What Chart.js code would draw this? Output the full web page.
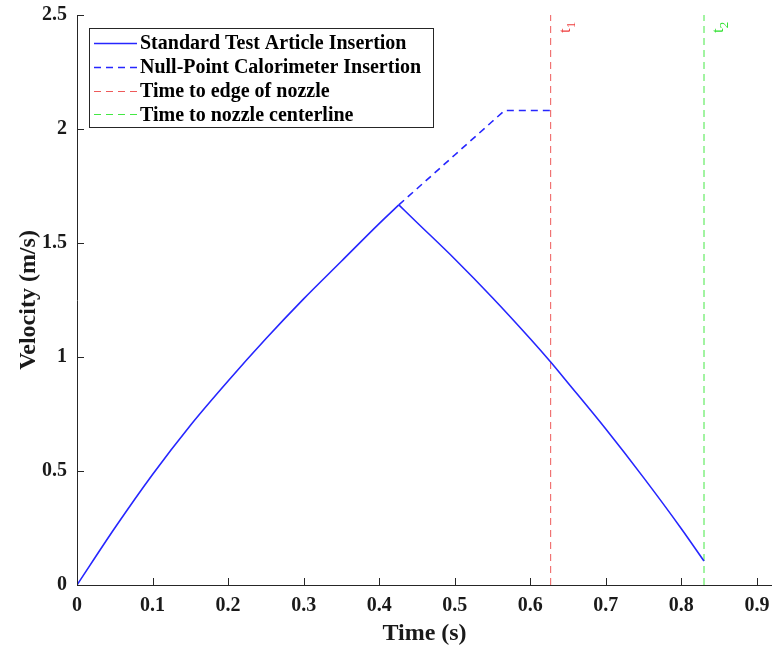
<!DOCTYPE html>
<html>
<head>
<meta charset="utf-8">
<script src="https://cdn.jsdelivr.net/npm/chart.js@4/dist/chart.umd.min.js"></script>
<style>
  html, body { margin: 0; padding: 0; background: #fff; }
  #wrap { width: 772px; height: 656px; }
</style>
</head>
<body>
<div id="wrap"><canvas id="c" width="772" height="656"></canvas></div>
<script>
// Insertion velocity profiles
const timeStandard = [0, 0.05, 0.1, 0.15, 0.2, 0.25, 0.3, 0.35, 0.4, 0.426, 0.45, 0.5, 0.55, 0.6, 0.627, 0.65, 0.7, 0.75, 0.8, 0.83];
const velStandard  = [0, 0.25, 0.485, 0.70, 0.895, 1.08, 1.255, 1.42, 1.585, 1.667, 1.59, 1.43, 1.26, 1.08, 0.978, 0.886, 0.684, 0.471, 0.247, 0.105];

const timeNullPoint = [0.426, 0.45, 0.5, 0.55, 0.566, 0.627];
const velNullPoint  = [1.667, 1.738, 1.886, 2.034, 2.081, 2.081];

// Event times
const tEdge = 0.627;     // time to edge of nozzle (t1)
const tCenter = 0.83;    // time to nozzle centerline (t2)

// Axis ticks
const xTickValues = [0, 0.1, 0.2, 0.3, 0.4, 0.5, 0.6, 0.7, 0.8, 0.9];
const yTickValues = [0, 0.5, 1, 1.5, 2, 2.5];

const SERIF = '"Liberation Serif", "Times New Roman", Times, serif';
const AXIS_COLOR = '#262626';
const BLUE = '#2626ff';

const toPoints = (xs, ys) => xs.map((x, i) => ({ x: x, y: ys[i] }));

// The standard profile is drawn as a rising and a falling branch so the peak stays sharp
const peakIndex = velStandard.indexOf(Math.max(...velStandard));
const standardRise = toPoints(timeStandard.slice(0, peakIndex + 1), velStandard.slice(0, peakIndex + 1));
const standardFall = toPoints(timeStandard.slice(peakIndex), velStandard.slice(peakIndex));

// Inward tick marks, the legend box and the t1/t2 markers
const decorations = {
  id: 'decorations',
  afterDatasetsDraw(chart) {
    const { ctx, chartArea, scales } = chart;
    const xs = scales.x, ys = scales.y;
    ctx.save();
    ctx.strokeStyle = AXIS_COLOR;
    ctx.lineWidth = 1;
    ctx.beginPath();
    xTickValues.forEach(v => {
      const px = Math.round(xs.getPixelForValue(v)) + 0.5;
      ctx.moveTo(px, chartArea.bottom);
      ctx.lineTo(px, chartArea.bottom - 7);
    });
    yTickValues.forEach(v => {
      const py = Math.round(ys.getPixelForValue(v)) + 0.5;
      ctx.moveTo(chartArea.left, py);
      ctx.lineTo(chartArea.left + 7, py);
    });
    ctx.stroke();

    // rotated subscript labels beside the vertical markers
    const marker = (t, sub, color) => {
      const px = xs.getPixelForValue(t);
      const py = ys.getPixelForValue(2.5);
      ctx.save();
      ctx.fillStyle = color;
      ctx.translate(px + 19, py + 18);
      ctx.rotate(-Math.PI / 2);
      ctx.textBaseline = 'alphabetic';
      ctx.textAlign = 'left';
      ctx.font = '17px ' + SERIF;
      ctx.fillText('t', 0, 0);
      const w = ctx.measureText('t').width;
      ctx.font = '13px ' + SERIF;
      ctx.fillText(sub, w, 5);
      ctx.restore();
    };
    marker(tEdge, '1', '#ee3a3a');
    marker(tCenter, '2', '#2ee02e');

    // legend
    const lx = 89.5, ly = 28.5, lw = 344, lh = 99;
    ctx.fillStyle = '#fff';
    ctx.fillRect(lx, ly, lw, lh);
    ctx.strokeStyle = AXIS_COLOR;
    ctx.lineWidth = 1;
    ctx.strokeRect(lx, ly, lw, lh);
    ctx.font = 'bold 20px ' + SERIF;
    ctx.textBaseline = 'middle';
    ctx.textAlign = 'left';
    chart.data.datasets.filter(ds => !ds.hideInLegend).forEach((ds, i) => {
      const ry = 43 + i * 23.8;
      ctx.save();
      ctx.strokeStyle = ds.borderColor;
      ctx.lineWidth = ds.borderWidth;
      ctx.setLineDash(ds.borderDash || []);
      ctx.beginPath();
      ctx.moveTo(94, Math.round(ry) + 0.5);
      ctx.lineTo(137, Math.round(ry) + 0.5);
      ctx.stroke();
      ctx.restore();
      ctx.fillStyle = '#000';
      ctx.fillText(ds.label, 140, ry + 1);
    });
    ctx.restore();
  }
};

new Chart(document.getElementById('c'), {
  type: 'scatter',
  data: {
    datasets: [
      {
        label: 'Standard Test Article Insertion',
        data: standardRise,
        showLine: true, borderColor: BLUE, borderWidth: 1.6,
        pointRadius: 0, cubicInterpolationMode: 'monotone'
      },
      {
        label: 'Standard Test Article Insertion',
        hideInLegend: true,
        data: standardFall,
        showLine: true, borderColor: BLUE, borderWidth: 1.6,
        pointRadius: 0, cubicInterpolationMode: 'monotone'
      },
      {
        label: 'Null-Point Calorimeter Insertion',
        data: toPoints(timeNullPoint, velNullPoint),
        showLine: true, borderColor: BLUE, borderWidth: 1.6, borderDash: [7, 5],
        pointRadius: 0, tension: 0
      },
      {
        label: 'Time to edge of nozzle',
        data: toPoints([tEdge, tEdge], [0, 2.5]),
        showLine: true, borderColor: '#ee5a5a', borderWidth: 1, borderDash: [7, 5],
        pointRadius: 0
      },
      {
        label: 'Time to nozzle centerline',
        data: toPoints([tCenter, tCenter], [0, 2.5]),
        showLine: true, borderColor: '#44e844', borderWidth: 1, borderDash: [7, 5],
        pointRadius: 0
      }
    ]
  },
  options: {
    responsive: false,
    animation: false,
    devicePixelRatio: 1,
    layout: { padding: { left: 0, right: 0, top: 15, bottom: 0 } },
    plugins: { legend: { display: false }, tooltip: { enabled: false } },
    scales: {
      x: {
        type: 'linear', min: 0, max: 0.92,
        afterBuildTicks: s => { s.ticks = xTickValues.map(v => ({ value: v })); },
        afterFit: s => { s.height = 71; s.paddingLeft = 0; s.paddingRight = 0; },
        grid: { display: true, drawOnChartArea: false, drawTicks: false },
        border: { display: true, color: AXIS_COLOR, width: 1 },
        ticks: {
          padding: 9, color: '#1a1a1a', maxRotation: 0,
          font: { family: SERIF, size: 20, weight: 'bold' },
          callback: v => String(v)
        },
        title: {
          display: true, text: 'Time (s)', color: '#1a1a1a',
          font: { family: SERIF, size: 24, weight: 'bold' },
          padding: { top: 0, bottom: 8 }
        }
      },
      y: {
        type: 'linear', min: 0, max: 2.5,
        afterBuildTicks: s => { s.ticks = yTickValues.map(v => ({ value: v })); },
        afterFit: s => { s.width = 77; s.paddingTop = 0; s.paddingBottom = 0; },
        grid: { display: true, drawOnChartArea: false, drawTicks: false },
        border: { display: true, color: AXIS_COLOR, width: 1 },
        ticks: {
          padding: 10, color: '#1a1a1a',
          font: { family: SERIF, size: 20, weight: 'bold' },
          callback: v => String(v)
        },
        title: {
          display: true, text: 'Velocity (m/s)', color: '#1a1a1a',
          font: { family: SERIF, size: 24, weight: 'bold' },
          padding: { top: 14, bottom: 0 }
        }
      }
    }
  },
  plugins: [decorations]
});
</script>
</body>
</html>
